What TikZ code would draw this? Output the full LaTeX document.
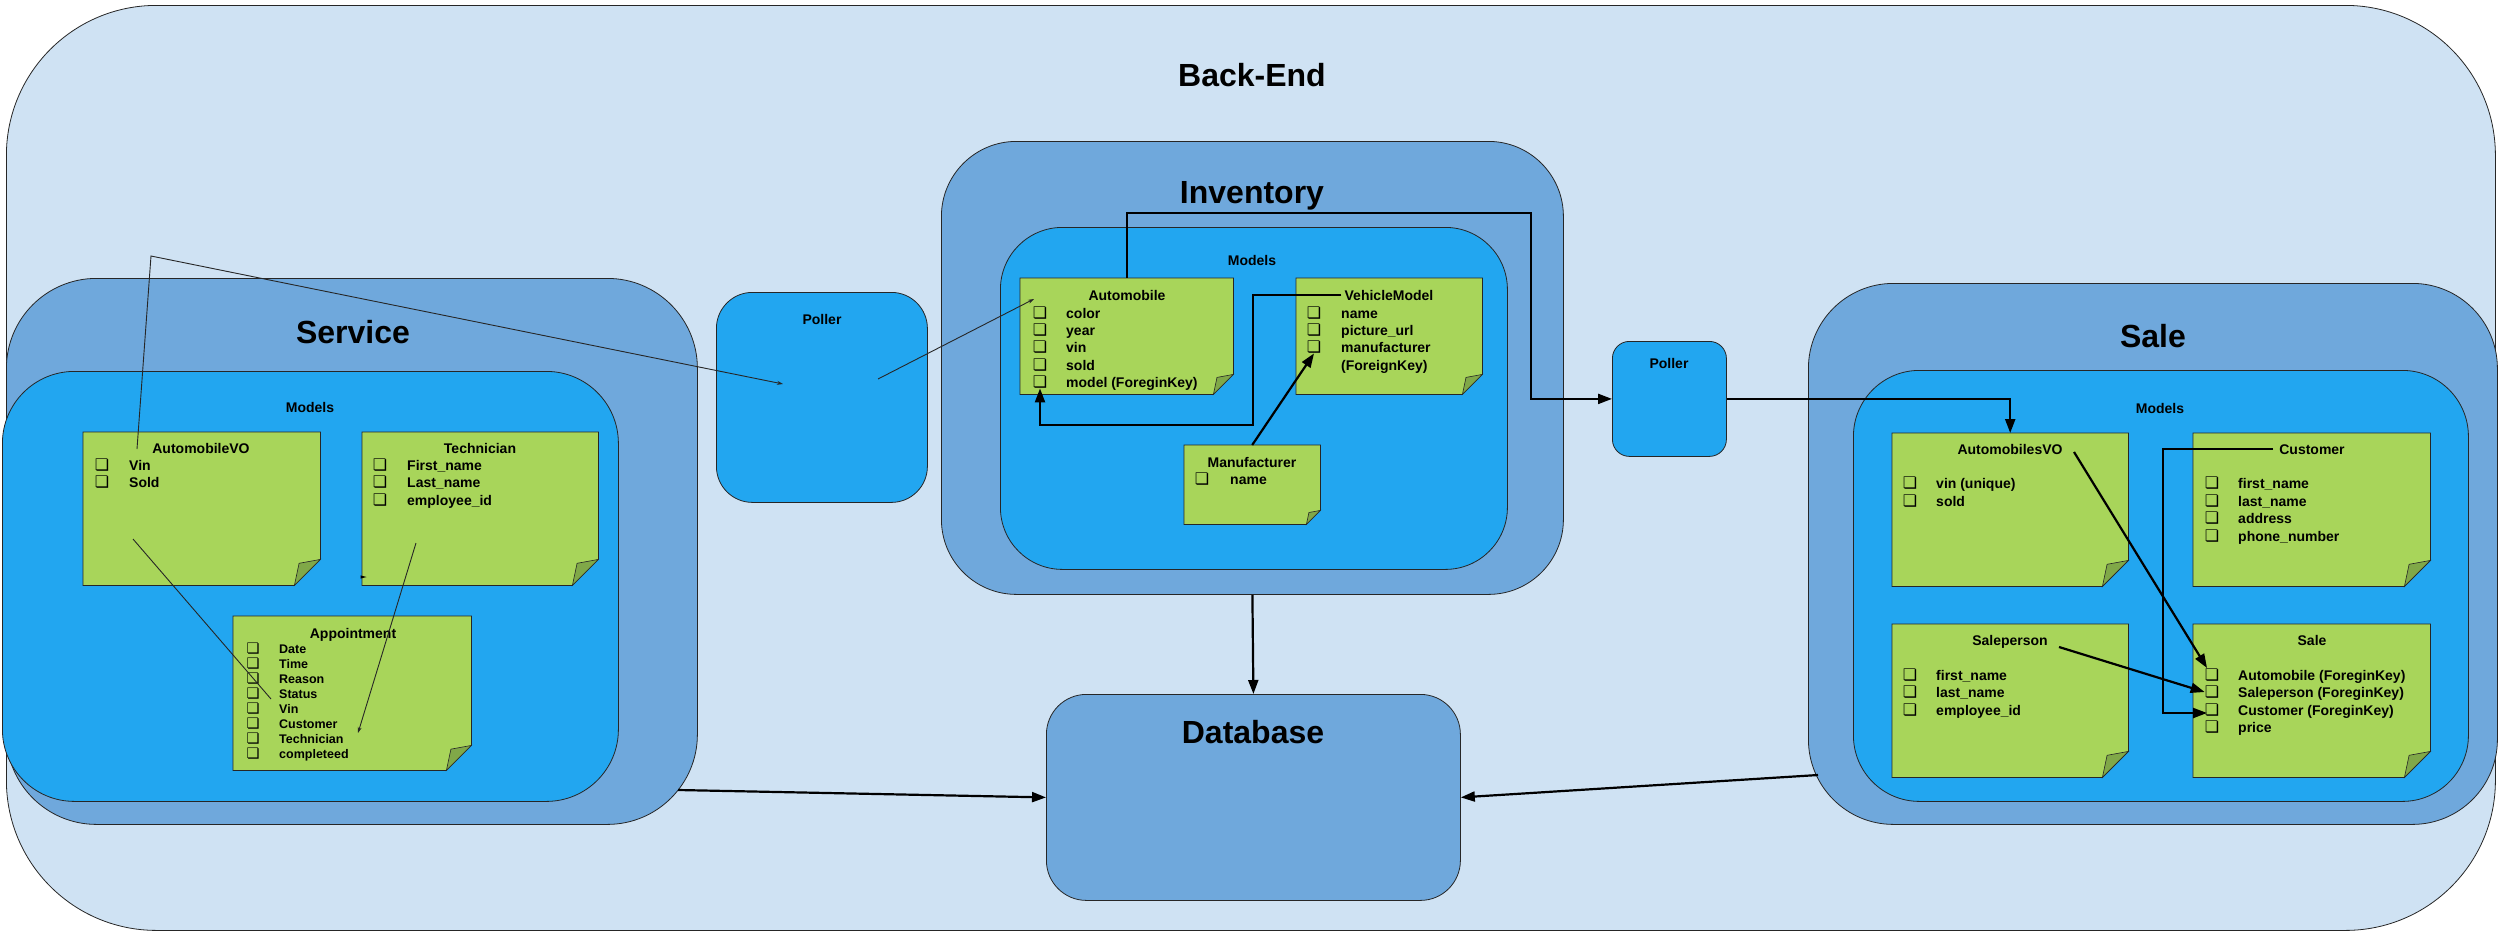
\documentclass[tikz,border=0pt]{standalone}
\usepackage{fontspec}
\setmainfont{Liberation Sans}
\newfontfamily\bulfont{DejaVu Sans}
\usetikzlibrary{arrows.meta}
\definecolor{bgl}{RGB}{207,226,243}
\definecolor{bgm}{RGB}{111,168,220}
\definecolor{bgb}{RGB}{34,166,240}
\definecolor{ngreen}{RGB}{168,213,90}
\definecolor{nfold}{RGB}{128,168,72}
\tikzset{
  box/.style={draw=black!85, line width=0.8pt},
  bigtitle/.style={font=\fontsize{32}{38}\selectfont\bfseries, inner sep=0pt, text height=23pt, text depth=0pt},
  midtitle/.style={font=\fontsize{14}{17}\selectfont\bfseries, inner sep=0pt, text height=10pt, text depth=0pt},
  itemtext/.style={font=\fontsize{14}{17}\selectfont\bfseries, inner sep=0pt, anchor=west, text height=10pt, text depth=0pt},
  smallitem/.style={font=\fontsize{12.5}{15}\selectfont\bfseries, inner sep=0pt, anchor=west, text height=9pt, text depth=0pt},
  bul/.style={font=\fontsize{16}{17}\bulfont\bfseries, inner sep=0pt},
  smallbul/.style={font=\fontsize{14.5}{15}\bulfont\bfseries, inner sep=0pt},
  thinline/.style={line width=0.9pt, draw=black!85},
  thickline/.style={line width=2.2pt, draw=black},
  thintip/.style={-{Stealth[length=6pt,width=4pt]}},
  bigtip/.style={-{Triangle[length=14pt,width=10pt]}},
}
\newcommand\rbox[6]{\node[#2, anchor=north west, inner sep=0pt, minimum width={#5-#3}, minimum height={#6-#4}] (#1) at (#3,#4) {};}
\newcommand\stickynote[6]{%
  \node[anchor=north west, inner sep=0pt, minimum width={#4-#2}, minimum height={#5-#3}] (#1) at (#2,#3) {};
  \filldraw[fill=ngreen, draw=black!85, line width=0.8pt] (#1.north west) -- (#1.north east) -- ([yshift=#6pt]#1.south east) -- ([xshift=-#6pt]#1.south east) -- (#1.south west) -- cycle;
  \filldraw[fill=nfold, draw=black!85, line width=0.6pt] ([xshift=-#6pt]#1.south east) -- ([xshift={-0.82*#6pt}, yshift={0.85*#6pt}]#1.south east) -- ([yshift=#6pt]#1.south east) -- cycle;
}
\newcommand\nitem[6]{%
  \node[bul] (#1-b) at (#2,#4) {❏};
  \node[#5] (#1) at (#3,#4) {#6};
}
\newcommand\sitem[6]{%
  \node[smallbul] (#1-b) at (#2,#4) {❏};
  \node[#5] (#1) at (#3,#4) {#6};
}
\begin{document}
\begin{tikzpicture}[x=1pt,y=-1pt]
\useasboundingbox (0,0) rectangle (2500,937);
% Back-End
\rbox{backend}{box,fill=bgl,rounded corners=150pt}{6}{5}{2495}{930}
\node[bigtitle] (betitle) at (1252,75) {Back-End};

% Service
\rbox{service}{box,fill=bgm,rounded corners=90pt}{6}{278}{697}{824}
\node[bigtitle] (svtitle) at (353,332) {Service};
\rbox{svmodels}{box,fill=bgb,rounded corners=72pt}{2}{371}{618}{801}
\node[midtitle] (svmt) at (310,407) {Models};

\stickynote{avo}{83}{432}{320}{585}{26}
\node[midtitle] (avotitle) at (201,448) {AutomobileVO};
\nitem{avo1}{102}{129}{465}{itemtext}{Vin}
\nitem{avo2}{102}{129}{482}{itemtext}{Sold}

\stickynote{tech}{362}{432}{598}{585}{26}
\node[midtitle] (techtitle) at (480,448) {Technician};
\nitem{tech1}{380}{407}{465}{itemtext}{First\_name}
\nitem{tech2}{380}{407}{482}{itemtext}{Last\_name}
\nitem{tech3}{380}{407}{500}{itemtext}{employee\_id}

\stickynote{appt}{233}{616}{471}{770}{25}
\node[midtitle] (appttitle) at (353,633) {Appointment};
\sitem{appt1}{253}{279}{649}{smallitem}{Date}
\sitem{appt2}{253}{279}{664}{smallitem}{Time}
\sitem{appt3}{253}{279}{679}{smallitem}{Reason}
\sitem{appt4}{253}{279}{694}{smallitem}{Status}
\sitem{appt5}{253}{279}{709}{smallitem}{Vin}
\sitem{appt6}{253}{279}{724}{smallitem}{Customer}
\sitem{appt7}{253}{279}{739}{smallitem}{Technician}
\sitem{appt8}{253}{279}{754}{smallitem}{completeed}

% Left poller
\rbox{poller1}{box,fill=bgb,rounded corners=36pt}{716}{292}{927}{502}
\node[midtitle] (p1title) at (822,319) {Poller};

% Inventory
\rbox{inventory}{box,fill=bgm,rounded corners=75pt}{941}{141}{1563}{594}
\node[bigtitle] (invtitle) at (1252,192) {Inventory};
\rbox{invmodels}{box,fill=bgb,rounded corners=62pt}{1000}{227}{1507}{569}
\node[midtitle] (invmt) at (1252,260) {Models};

\stickynote{amob}{1020}{278}{1233}{394}{20}
\node[midtitle] (amobtitle) at (1127,295) {Automobile};
\nitem{amob1}{1040}{1066}{313}{itemtext}{color}
\nitem{amob2}{1040}{1066}{330}{itemtext}{year}
\nitem{amob3}{1040}{1066}{347}{itemtext}{vin}
\nitem{amob4}{1040}{1066}{365}{itemtext}{sold}
\nitem{amob5}{1040}{1066}{382}{itemtext}{model (ForeginKey)}

\stickynote{vm}{1296}{278}{1482}{394}{20}
\node[midtitle] (vmtitle) at (1389,295) {VehicleModel};
\nitem{vm1}{1314}{1341}{313}{itemtext}{name}
\nitem{vm2}{1314}{1341}{330}{itemtext}{picture\_url}
\nitem{vm3}{1314}{1341}{347}{itemtext}{manufacturer}
\node[itemtext] (vm4) at (1341,365) {(ForeignKey)};

\stickynote{manu}{1184}{445}{1320}{524}{14}
\node[midtitle] (manutitle) at (1252,462) {Manufacturer};
\nitem{manu1}{1202}{1230}{479}{itemtext}{name}

% Right poller
\rbox{poller2}{box,fill=bgb,rounded corners=17pt}{1612}{341}{1726}{456}
\node[midtitle] (p2title) at (1669,363) {Poller};

% Database
\rbox{database}{box,fill=bgm,rounded corners=40pt}{1046}{694}{1460}{900}
\node[bigtitle] (dbtitle) at (1253,732) {Database};

% Sale
\rbox{salebox}{box,fill=bgm,rounded corners=85pt}{1808}{283}{2497}{824}
\node[bigtitle] (saletitlebig) at (2153,336) {Sale};
\rbox{salemodels}{box,fill=bgb,rounded corners=66pt}{1853}{370}{2468}{801}
\node[midtitle] (salemt) at (2160,408) {Models};

\stickynote{avos}{1892}{433}{2128}{586}{26}
\node[midtitle] (avostitle) at (2010,449) {AutomobilesVO};
\nitem{avos1}{1910}{1936}{483}{itemtext}{vin (unique)}
\nitem{avos2}{1910}{1936}{501}{itemtext}{sold}

\stickynote{cust}{2193}{433}{2430}{586}{26}
\node[midtitle] (custtitle) at (2312,449) {Customer};
\nitem{cust1}{2212}{2238}{483}{itemtext}{first\_name}
\nitem{cust2}{2212}{2238}{501}{itemtext}{last\_name}
\nitem{cust3}{2212}{2238}{518}{itemtext}{address}
\nitem{cust4}{2212}{2238}{536}{itemtext}{phone\_number}

\stickynote{sp}{1892}{624}{2128}{777}{26}
\node[midtitle] (sptitle) at (2010,640) {Saleperson};
\nitem{sp1}{1910}{1936}{675}{itemtext}{first\_name}
\nitem{sp2}{1910}{1936}{692}{itemtext}{last\_name}
\nitem{sp3}{1910}{1936}{710}{itemtext}{employee\_id}

\stickynote{sale}{2193}{624}{2430}{777}{26}
\node[midtitle] (saletitle) at (2312,640) {Sale};
\nitem{sale1}{2212}{2238}{675}{itemtext}{Automobile (ForeginKey)}
\nitem{sale2}{2212}{2238}{692}{itemtext}{Saleperson (ForeginKey)}
\nitem{sale3}{2212}{2238}{710}{itemtext}{Customer (ForeginKey)}
\nitem{sale4}{2212}{2238}{727}{itemtext}{price}

% thin connectors
\coordinate (c1s) at (137,449);
\coordinate (c1m) at (151,256);
\coordinate (c1e) at (783,384);
\draw[thinline,thintip] (c1s) -- (c1m) -- (c1e);
\coordinate (c2s) at (878,379);
\coordinate (c2e) at (1034,299);
\draw[thinline,thintip] (c2s) -- (c2e);
\coordinate (c3s) at (133,539);
\coordinate (c3e) at (271,699);
\draw[thinline] (c3s) -- (c3e);
\coordinate (c4s) at (416,543);
\coordinate (c4e) at (358,733);
\draw[thinline,thintip] (c4s) -- (c4e);
\coordinate (tk) at (363,577);
\fill ([xshift=-2.5pt,yshift=1.6pt]tk) -- ([xshift=3.5pt]tk) -- ([xshift=-2.5pt,yshift=-1.6pt]tk) -- cycle;

% thick connectors
\coordinate (c5a) at (1531,213);
\draw[thickline,bigtip] (amob.north) |- (c5a) |- (poller2.west);
\draw[thickline,bigtip] (poller2.east) -| (avos.north);
\coordinate (c7b) at (1253,425);
\draw[thickline,bigtip] ([xshift=-3pt]vmtitle.west) -| (c7b) -| (amob5-b.south);
\draw[thickline,bigtip] (manu.north) -- (vm3-b.south);
\draw[thickline,bigtip] (inventory.south) -- (database.north);
\coordinate (c10s) at (678,790);
\draw[thickline,bigtip] (c10s) -- (database.west);
\coordinate (c11s) at (1818,775);
\draw[thickline,bigtip] (c11s) -- (database.east);
\coordinate (c12s) at (2074,452);
\coordinate (c12e) at (2207,668);
\draw[thickline,bigtip] (c12s) -- (c12e);
\coordinate (c13s) at (2059,647);
\draw[thickline,bigtip] (c13s) -- (sale2-b.west);
\coordinate (c14a) at (2163,713);
\coordinate (c14e) at (2207,713);
\draw[thickline,bigtip] ([xshift=-6pt]custtitle.west) -| (c14a) -- (c14e);
\end{tikzpicture}
\end{document}
